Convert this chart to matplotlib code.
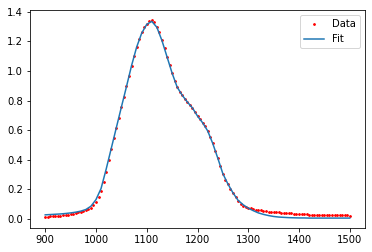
import numpy as np
import matplotlib.pyplot as plt

# measured spectrum (every 5 units) and fitted curve (every 10 units)
data_x = np.arange(900, 1501, 5)
data_y = [0.015, 0.015, 0.016, 0.017, 0.018, 0.020, 0.022, 0.024, 0.026, 0.029,
          0.032, 0.036, 0.040, 0.044, 0.048, 0.053, 0.058, 0.065, 0.075, 0.092,
          0.115, 0.148, 0.19, 0.25, 0.32, 0.395, 0.47, 0.545, 0.615, 0.685,
          0.755, 0.825, 0.895, 0.965, 1.035, 1.10, 1.16, 1.215, 1.26, 1.295,
          1.32, 1.34, 1.345, 1.33, 1.30, 1.26, 1.21, 1.155, 1.095, 1.04,
          0.985, 0.935, 0.89, 0.86, 0.835, 0.812, 0.79, 0.77, 0.75, 0.725,
          0.695, 0.673, 0.65, 0.625, 0.595, 0.555, 0.51, 0.46, 0.41, 0.355,
          0.305, 0.265, 0.235, 0.205, 0.175, 0.145, 0.12, 0.102, 0.09, 0.082,
          0.075, 0.07, 0.066, 0.063, 0.06, 0.057, 0.055, 0.052, 0.049, 0.047,
          0.046, 0.044, 0.043, 0.042, 0.041, 0.040, 0.039, 0.037, 0.036, 0.035,
          0.034, 0.033, 0.032, 0.030, 0.029, 0.028, 0.027, 0.027, 0.027, 0.026,
          0.026, 0.026, 0.026, 0.026, 0.026, 0.025, 0.025, 0.025, 0.025, 0.024,
          0.020]

fit_x = np.arange(900, 1501, 10)
fit_y = [0.027, 0.029, 0.031, 0.033, 0.036, 0.040, 0.045, 0.052, 0.063, 0.085,
         0.13, 0.205, 0.335, 0.475, 0.615, 0.755, 0.893, 1.035, 1.16, 1.255,
         1.315, 1.335, 1.295, 1.205, 1.095, 0.985, 0.89, 0.835, 0.79, 0.75,
         0.695, 0.65, 0.595, 0.51, 0.41, 0.305, 0.235, 0.175, 0.125, 0.095,
         0.072, 0.055, 0.040, 0.030, 0.022, 0.016, 0.012, 0.010, 0.008, 0.007,
         0.006, 0.006, 0.005, 0.005, 0.005, 0.005, 0.005, 0.005, 0.005, 0.005,
         0.005]

fig = plt.figure(figsize=(372/72, 252/72), dpi=72)
ax = fig.add_axes([30/372, 24/252, 335/372, 218/252])

ax.scatter(data_x, data_y, s=3, c='r', label='Data')
ax.plot(fit_x, fit_y, label='Fit')
ax.legend()

fig.savefig('out.png', dpi=72)
